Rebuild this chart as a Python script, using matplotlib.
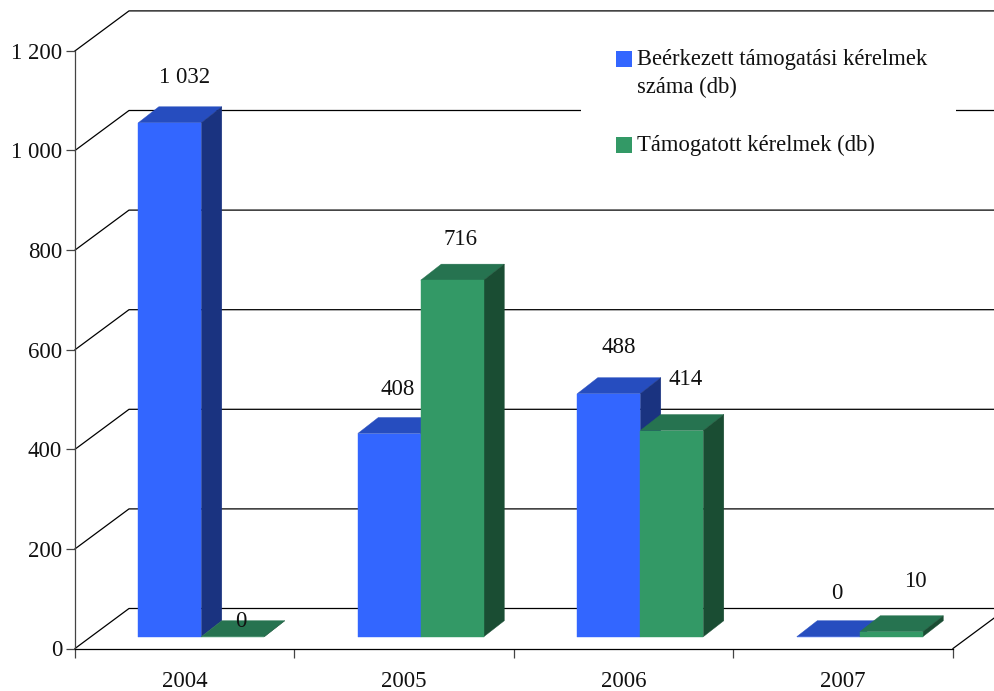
"""
Pseudo-3D column chart: support applications received vs supported, 2004-2007
"""

import matplotlib
matplotlib.use('Agg')
import matplotlib.pyplot as plt
from matplotlib.patches import Polygon, Rectangle

plt.rcParams['font.family'] = ['Liberation Serif', 'DejaVu Serif']

# Data
years = ['2004', '2005', '2006', '2007']
received = [1032, 408, 488, 0]
supported = [0, 716, 414, 10]
y_ticks = [0, 200, 400, 600, 800, 1000, 1200]
legend_labels = ['Beérkezett támogatási kérelmek\nszáma (db)', 'Támogatott kérelmek (db)']

# Colors (front, top, side)
blue = ('#3366FF', '#264DBF', '#1A3380')
green = ('#339966', '#267350', '#1A4D33')
text_color = '#111111'

# Label nudges in pixels from the middle of each bar's front top edge
received_nudge = [(15, 45.5), (8.5, 44.5), (9.5, 46), (9, 43.5)]
supported_nudge = [(8, 15.5), (8, 41), (13.5, 51), (24.5, 50.5)]

# Geometry
W, H = 995, 691
left, right, bottom, top = 75, 953, 648.5, 50.9
px_x = (right - left) / len(years)   # pixels per category
px_y = (bottom - top) / 1200         # pixels per unit

wall_dx, wall_dy = 54 / px_x, 40 / px_y      # depth of the floor
bar_dx, bar_dy = 20.5 / px_x, 16 / px_y      # depth of one bar
bar_w = 63 / px_x
bar_start = 63.3 / px_x
floor_y = 11.8 / px_y

fig = plt.figure(figsize=(W / 100, H / 100), dpi=100)
ax = fig.add_axes([left / W, 1 - bottom / H, (right - left) / W, (bottom - top) / H])
ax.set_xlim(0, len(years))
ax.set_ylim(0, 1200)
ax.patch.set_visible(False)

# Back wall and floor lines
for v in y_ticks:
    ax.plot([0, wall_dx, len(years) + wall_dx], [v, v + wall_dy, v + wall_dy],
            color='black', lw=0.9, clip_on=False, zorder=1)
ax.plot([len(years), len(years) + wall_dx], [0, wall_dy],
        color='black', lw=0.9, clip_on=False, zorder=1)


def draw_bar(x, value, colors, z):
    y0 = floor_y
    y1 = floor_y + value
    x1 = x + bar_w
    ax.add_patch(Polygon([(x, y1), (x1, y1), (x1 + bar_dx, y1 + bar_dy), (x + bar_dx, y1 + bar_dy)],
                         fc=colors[1], ec=colors[1], lw=0.3, clip_on=False, zorder=z))
    ax.add_patch(Polygon([(x1, y0), (x1 + bar_dx, y0 + bar_dy), (x1 + bar_dx, y1 + bar_dy), (x1, y1)],
                         fc=colors[2], ec=colors[2], lw=0.3, clip_on=False, zorder=z))
    ax.add_patch(Rectangle((x, y0), bar_w, value, fc=colors[0], ec=colors[0], lw=0.3,
                           clip_on=False, zorder=z))


def draw_label(x, value, nudge):
    ax.annotate(f'{value}'.replace('1032', '1 032'), xy=(x + bar_w / 2, floor_y + value),
                xytext=(nudge[0] * 0.72, nudge[1] * 0.72), textcoords='offset points',
                ha='center', va='center', fontsize=16.5, color=text_color, zorder=10)


for i in range(len(years)):
    x_blue = i + bar_start
    x_green = x_blue + bar_w
    draw_bar(x_blue, received[i], blue, 3 + i)
    draw_bar(x_green, supported[i], green, 3.5 + i)
    draw_label(x_blue, received[i], received_nudge[i])
    draw_label(x_green, supported[i], supported_nudge[i])

# Axes
for s in ['top', 'right']:
    ax.spines[s].set_visible(False)
ax.spines['left'].set_linewidth(0.9)
ax.spines['left'].set_color('#444444')
ax.spines['bottom'].set_linewidth(0.9)
ax.spines['bottom'].set_color('black')
ax.set_yticks(y_ticks)
ax.set_yticklabels([f'{v:,}'.replace(',', ' ') for v in y_ticks])
ax.set_xticks(range(len(years) + 1))
ax.set_xticklabels([])
ax.set_xticks([i + 0.5 for i in range(len(years))], minor=True)
ax.set_xticklabels(years, minor=True)
ax.tick_params(axis='y', length=6.2, width=0.9, color='#444444', labelsize=16.5,
               labelcolor=text_color, pad=3)
ax.tick_params(axis='x', which='major', length=6.8, width=0.9, color='#444444')
ax.tick_params(axis='x', which='minor', length=0, labelsize=16.5,
               labelcolor=text_color, pad=16)

# Legend drawn on a white box that hides the 1 000 wall line
fig.add_artist(Rectangle((581 / W, 1 - 190 / H), 375 / W, 160 / H, transform=fig.transFigure,
                         fc='white', ec='none', zorder=20))
legend_rows = [(blue[0], 51, 49), (green[0], 137, 135)]
for label, (color, y_sw, y_txt) in zip(legend_labels, legend_rows):
    fig.add_artist(Rectangle((616 / W, 1 - (y_sw + 16) / H), 16 / W, 16 / H,
                             transform=fig.transFigure, fc=color, ec='none', zorder=21))
    fig.text(637 / W, 1 - y_txt / H, label, ha='left', va='top', fontsize=16.3,
             color=text_color, linespacing=1.4, zorder=21)

fig.savefig('out.png', dpi=100)
